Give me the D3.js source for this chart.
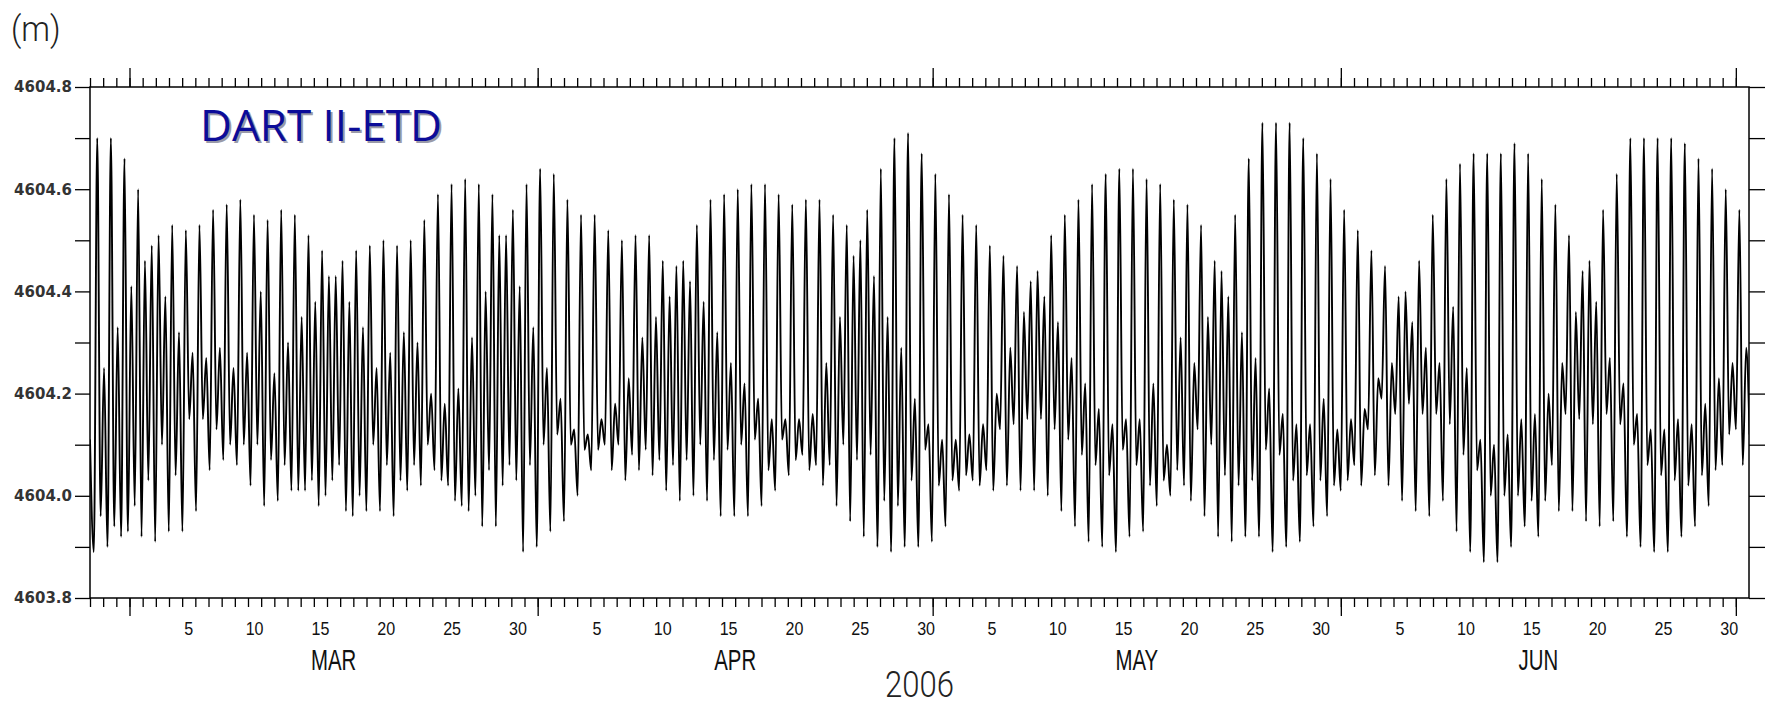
<!DOCTYPE html>
<html>
<head>
<meta charset="utf-8">
<script src="https://cdn.jsdelivr.net/npm/d3@7"></script>
<style>
  body { margin: 0; background: #fff; }
  svg { display: block; }
</style>
</head>
<body>
<script>
// bottom pressure water column, one high and one low per tide (12.42 h)
var highs = [
  4604.70, 4604.25, 4604.70, 4604.33, 4604.66, 4604.41, 4604.60, 4604.46, 4604.49, 4604.51,
  4604.39, 4604.53, 4604.32, 4604.52, 4604.28, 4604.53, 4604.27, 4604.56, 4604.29, 4604.57,
  4604.25, 4604.58, 4604.28, 4604.55, 4604.40, 4604.54, 4604.24, 4604.56, 4604.30, 4604.55,
  4604.35, 4604.51, 4604.38, 4604.48, 4604.43, 4604.43, 4604.46, 4604.38, 4604.48, 4604.33,
  4604.49, 4604.25, 4604.50, 4604.28, 4604.49, 4604.32, 4604.50, 4604.30, 4604.54, 4604.20,
  4604.59, 4604.18, 4604.61, 4604.21, 4604.62, 4604.31, 4604.61, 4604.40, 4604.59, 4604.51,
  4604.51, 4604.56, 4604.41, 4604.61, 4604.33, 4604.64, 4604.25, 4604.63, 4604.19, 4604.58,
  4604.13, 4604.55, 4604.12, 4604.55, 4604.15, 4604.52, 4604.18, 4604.50, 4604.23, 4604.51,
  4604.31, 4604.51, 4604.35, 4604.46, 4604.39, 4604.45, 4604.46, 4604.42, 4604.53, 4604.38,
  4604.58, 4604.32, 4604.59, 4604.26, 4604.60, 4604.22, 4604.61, 4604.19, 4604.61, 4604.15,
  4604.59, 4604.15, 4604.57, 4604.15, 4604.58, 4604.16, 4604.58, 4604.26, 4604.55, 4604.35,
  4604.53, 4604.47, 4604.50, 4604.56, 4604.43, 4604.64, 4604.35, 4604.70, 4604.29, 4604.71,
  4604.19, 4604.67, 4604.14, 4604.63, 4604.11, 4604.59, 4604.11, 4604.55, 4604.12, 4604.53,
  4604.14, 4604.49, 4604.20, 4604.47, 4604.29, 4604.45, 4604.36, 4604.42, 4604.44, 4604.39,
  4604.51, 4604.34, 4604.55, 4604.27, 4604.58, 4604.22, 4604.61, 4604.17, 4604.63, 4604.14,
  4604.64, 4604.15, 4604.64, 4604.15, 4604.62, 4604.22, 4604.61, 4604.10, 4604.58, 4604.31,
  4604.57, 4604.26, 4604.53, 4604.35, 4604.46, 4604.44, 4604.39, 4604.55, 4604.32, 4604.66,
  4604.27, 4604.73, 4604.21, 4604.73, 4604.16, 4604.73, 4604.14, 4604.70, 4604.14, 4604.67,
  4604.19, 4604.62, 4604.13, 4604.56, 4604.15, 4604.52, 4604.17, 4604.48, 4604.23, 4604.45,
  4604.26, 4604.39, 4604.40, 4604.34, 4604.46, 4604.29, 4604.55, 4604.26, 4604.62, 4604.37,
  4604.65, 4604.25, 4604.67, 4604.11, 4604.67, 4604.10, 4604.67, 4604.12, 4604.69, 4604.15,
  4604.67, 4604.16, 4604.62, 4604.20, 4604.57, 4604.26, 4604.51, 4604.36, 4604.44, 4604.46,
  4604.38, 4604.56, 4604.27, 4604.63, 4604.22, 4604.70, 4604.16, 4604.70, 4604.13, 4604.70,
  4604.13, 4604.70, 4604.15, 4604.69, 4604.14, 4604.66, 4604.18, 4604.64, 4604.23, 4604.60,
  4604.26, 4604.56, 4604.29
];
var lows = [
  4603.89, 4603.96, 4603.90, 4603.94, 4603.92, 4603.93, 4603.98, 4603.92, 4604.03, 4603.91,
  4604.10, 4603.93, 4604.04, 4603.93, 4604.15, 4603.97, 4604.15, 4604.05, 4604.13, 4604.07,
  4604.10, 4604.06, 4604.10, 4604.02, 4604.10, 4603.98, 4604.07, 4603.99, 4604.06, 4604.01,
  4604.01, 4604.01, 4604.03, 4603.98, 4604.00, 4604.03, 4604.06, 4603.97, 4603.96, 4604.00,
  4603.97, 4604.10, 4603.97, 4604.06, 4603.96, 4604.03, 4604.01, 4604.06, 4604.02, 4604.10,
  4604.05, 4604.03, 4604.02, 4603.99, 4603.98, 4603.97, 4604.00, 4603.94, 4604.05, 4603.94,
  4604.02, 4604.06, 4604.03, 4603.89, 4604.06, 4603.90, 4604.10, 4603.93, 4604.12, 4603.95,
  4604.10, 4604.00, 4604.09, 4604.05, 4604.09, 4604.10, 4604.05, 4604.10, 4604.03, 4604.08,
  4604.05, 4604.09, 4604.04, 4604.07, 4604.01, 4604.06, 4603.99, 4604.07, 4604.00, 4604.10,
  4603.99, 4604.07, 4603.96, 4604.09, 4603.96, 4604.10, 4603.96, 4604.11, 4603.98, 4604.05,
  4604.01, 4604.11, 4604.04, 4604.07, 4604.08, 4604.05, 4604.06, 4604.02, 4604.06, 4603.98,
  4604.10, 4603.95, 4604.07, 4603.92, 4604.08, 4603.90, 4603.99, 4603.89, 4603.98, 4603.90,
  4604.03, 4603.90, 4604.09, 4603.91, 4604.02, 4603.94, 4604.03, 4604.01, 4604.04, 4604.03,
  4604.02, 4604.05, 4604.01, 4604.13, 4604.02, 4604.14, 4604.01, 4604.15, 4604.01, 4604.15,
  4604.00, 4604.13, 4603.97, 4604.11, 4603.94, 4604.08, 4603.91, 4604.06, 4603.90, 4604.04,
  4603.89, 4604.09, 4603.92, 4604.06, 4603.93, 4604.02, 4603.98, 4604.03, 4604.00, 4604.05,
  4604.02, 4603.99, 4604.13, 4603.96, 4604.10, 4603.92, 4604.04, 4603.91, 4604.02, 4603.92,
  4604.03, 4603.92, 4604.09, 4603.89, 4604.08, 4603.90, 4604.03, 4603.91, 4604.04, 4603.94,
  4604.03, 4603.96, 4604.02, 4604.01, 4604.03, 4604.06, 4604.02, 4604.13, 4604.04, 4604.19,
  4604.02, 4604.16, 4603.99, 4604.18, 4603.97, 4604.16, 4603.96, 4604.16, 4603.99, 4604.14,
  4603.93, 4604.08, 4603.89, 4604.05, 4603.87, 4604.00, 4603.87, 4604.00, 4603.90, 4604.00,
  4603.94, 4603.99, 4603.92, 4603.99, 4604.06, 4603.97, 4604.16, 4603.97, 4604.15, 4603.95,
  4604.14, 4603.94, 4604.16, 4603.95, 4604.14, 4603.92, 4604.10, 4603.90, 4604.06, 4603.89,
  4604.04, 4603.89, 4604.03, 4603.92, 4604.02, 4603.94, 4604.04, 4603.98, 4604.05, 4604.06,
  4604.12, 4604.13, 4604.06, 4604.12
];
var startValue = 4604.11;      // first sample, Feb 26 00:00
var firstHighDay = 0.55;       // days after Feb 26 00:00
var tideHours = 12.42;

var yTicks = [4603.8, 4603.9, 4604.0, 4604.1, 4604.2, 4604.3, 4604.4, 4604.5, 4604.6, 4604.7, 4604.8];
var yLabels = [4603.8, 4604.0, 4604.2, 4604.4, 4604.6, 4604.8];
var months = ["MAR", "APR", "MAY", "JUN"];
var dayLabels = [5, 10, 15, 20, 25, 30];
var yearLabel = "2006";
var titleText = "DART II-ETD";
var unitText = "(m)";

var svgWidth = 1768, svgHeight = 708;
var margin = {top: 87, right: 19, bottom: 110, left: 90};
var width = svgWidth - margin.left - margin.right;
var height = svgHeight - margin.top - margin.bottom;

var startDate = new Date(Date.UTC(2006, 1, 26));
var endDate = new Date(Date.UTC(2006, 6, 2));
var hour = 3600 * 1000;

var svg = d3.select("body").append("svg").attr("width", svgWidth).attr("height", svgHeight);
var chart = svg.append("g").attr("transform", `translate(${margin.left},${margin.top})`);

var x = d3.scaleUtc().domain([startDate, endDate]).range([0, width]);
var y = d3.scaleLinear().domain([4603.8, 4604.8]).range([height, 0]);

// build the series: start sample, then low/high pairs
var series = [{t: startDate, v: startValue}];
lows.forEach(function(v, k) {
  series.push({t: new Date(+startDate + (firstHighDay * 24 + (k - 0.5) * tideHours) * hour), v: v});
  if (k < highs.length) {
    series.push({t: new Date(+startDate + (firstHighDay * 24 + k * tideHours) * hour), v: highs[k]});
  }
});

svg.append("defs").append("clipPath").attr("id", "plot")
  .append("rect").attr("x", margin.left).attr("y", margin.top).attr("width", width).attr("height", height);

var line = d3.line()
  .x(function(d) { return x(d.t); })
  .y(function(d) { return y(d.v); })
  .curve(d3.curveMonotoneX);

svg.append("g").attr("clip-path", "url(#plot)")
  .append("path")
  .datum(series)
  .attr("transform", `translate(${margin.left},${margin.top})`)
  .attr("d", line)
  .attr("fill", "none")
  .attr("stroke", "#000")
  .attr("stroke-width", 1.9);

// ticks
var allDays = d3.utcDay.range(startDate, endDate);
var monthStarts = d3.utcMonth.range(new Date(Date.UTC(2006, 2, 1)), new Date(Date.UTC(2006, 6, 2)));

function tickAxis(axis, pos) {
  var g = chart.append("g").attr("transform", pos).call(axis);
  g.select(".domain").remove();
  g.selectAll("line").attr("stroke", "#000").attr("stroke-width", 1.3);
  return g;
}
tickAxis(d3.axisTop(x).tickValues(allDays).tickSize(9).tickFormat(""), "translate(0,0)");
tickAxis(d3.axisTop(x).tickValues(monthStarts).tickSize(19).tickFormat(""), "translate(0,0)");
tickAxis(d3.axisBottom(x).tickValues(allDays).tickSize(9).tickFormat(""), `translate(0,${height})`);
tickAxis(d3.axisBottom(x).tickValues(monthStarts).tickSize(18).tickFormat(""), `translate(0,${height})`);
tickAxis(d3.axisRight(y).tickValues(yTicks).tickSize(16).tickFormat(""), `translate(${width},0)`);

var yAxis = tickAxis(d3.axisLeft(y).tickValues(yTicks).tickSize(15).tickPadding(3)
  .tickFormat(function(d) { return yLabels.some(function(l) { return Math.abs(l - d) < 1e-6; }) ? d.toFixed(1) : ""; }), "translate(0,0)");
yAxis.selectAll("text")
  .attr("font-family", "DejaVu Sans")
  .attr("font-weight", "bold")
  .attr("font-size", 15)
  .attr("fill", "#333");

// frame
chart.append("rect")
  .attr("width", width).attr("height", height)
  .attr("fill", "none").attr("stroke", "#000").attr("stroke-width", 1.5);

// day labels (centred on noon)
var dayTicks = [];
months.forEach(function(m, i) {
  dayLabels.forEach(function(d) { dayTicks.push(new Date(Date.UTC(2006, 2 + i, d, 12))); });
});
chart.selectAll(".daylab")
  .data(dayTicks)
  .enter().append("text")
  .attr("class", "daylab")
  .attr("transform", function(d) { return `translate(${x(d)},${height + 37}) scale(0.92,1)`; })
  .attr("text-anchor", "middle")
  .attr("font-family", "Liberation Sans")
  .attr("font-size", 17.5)
  .attr("fill", "#111")
  .text(function(d) { return d.getUTCDate(); });

// month labels (mid-month)
chart.selectAll(".monlab")
  .data(months)
  .enter().append("text")
  .attr("class", "monlab")
  .attr("transform", function(d, i) {
    var a = Date.UTC(2006, 2 + i, 1), b = Date.UTC(2006, 3 + i, 1);
    return `translate(${x(new Date((a + b) / 2))},${height + 72}) scale(0.68,1)`;
  })
  .attr("text-anchor", "middle")
  .attr("font-family", "Liberation Sans")
  .attr("font-size", 30)
  .attr("fill", "#111")
  .text(function(d) { return d; });

// year
chart.append("text")
  .attr("transform", `translate(${width / 2},${height + 99}) scale(0.84,1)`)
  .attr("text-anchor", "middle")
  .attr("font-family", "Roboto")
  .attr("font-weight", 300)
  .attr("font-size", 37)
  .attr("fill", "#222")
  .text(yearLabel);

// units
svg.append("text")
  .attr("transform", "translate(11,41) scale(0.9,1)")
  .attr("font-family", "Roboto")
  .attr("font-weight", 300)
  .attr("font-size", 36)
  .attr("fill", "#222")
  .text(unitText);

// title with soft shadow
svg.append("text")
  .attr("x", 202).attr("y", 143)
  .attr("font-family", "Open Sans")
  .attr("font-size", 44)
  .attr("fill", "#9a9aa8")
  .text(titleText);
svg.append("text")
  .attr("x", 200).attr("y", 141)
  .attr("font-family", "Open Sans")
  .attr("font-size", 44)
  .attr("fill", "#0c0c99")
  .text(titleText);
</script>
</body>
</html>
